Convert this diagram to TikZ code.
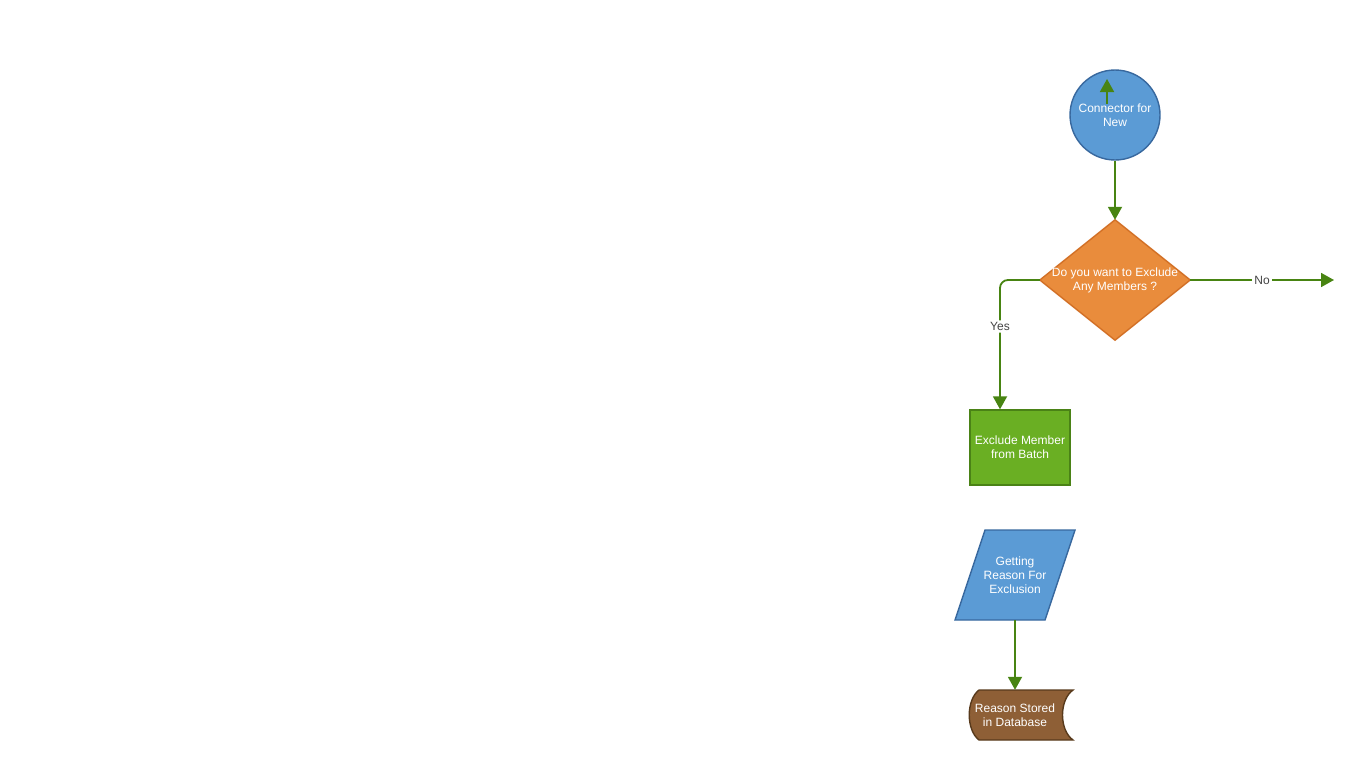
\documentclass[tikz,border=0pt]{standalone}
\usepackage{fontspec}
\setmainfont{Liberation Sans}
\usetikzlibrary{arrows.meta,shapes.geometric}
\definecolor{bluefill}{RGB}{91,155,213}
\definecolor{blueline}{RGB}{56,104,158}
\definecolor{orangefill}{RGB}{233,140,60}
\definecolor{orangeline}{RGB}{210,112,38}
\definecolor{greenfill}{RGB}{106,175,35}
\definecolor{greenline}{RGB}{74,130,22}
\definecolor{brownfill}{RGB}{142,95,54}
\definecolor{brownline}{RGB}{88,58,28}
\definecolor{linkgreen}{RGB}{72,132,18}
\definecolor{labelgrey}{RGB}{68,68,68}
\tikzset{
  x=1pt, y=-1pt,
  every node/.style={font=\fontsize{12}{14}\selectfont, text=white, align=center},
  holder/.style={inner sep=0pt},
  link/.style={draw=linkgreen, line width=1.8pt, -{Triangle[length=13pt,width=14pt]}},
  lbl/.style={fill=white, text=labelgrey, inner sep=2pt},
}
\begin{document}
\begin{tikzpicture}
\useasboundingbox (0,0) rectangle (1357,760);
% connector circle
\node[circle, draw=blueline, fill=bluefill, line width=1.4pt, minimum size=90pt, inner sep=0pt] (conn) at (1115,115) {Connector for\\New};
\coordinate (upstart) at (1107,104);
\coordinate (upend) at (1107,79);
\draw[link] (upstart) -- (upend);
% decision
\node[holder, minimum width=150pt, minimum height=120pt] (dec) at (1115,280) {};
\fill[orangefill, draw=orangeline, line width=1.4pt] (dec.north) -- (dec.east) -- (dec.south) -- (dec.west) -- cycle;
\node at (1115,280) {Do you want to Exclude\\Any Members ?};
% exclude box
\node[draw=greenline, fill=greenfill, line width=1.4pt, minimum width=100pt, minimum height=75pt, inner sep=0pt] (excl) at (1020,447.5) {Exclude Member\\from Batch};
% parallelogram
\node[holder, minimum width=120pt, minimum height=90pt] (para) at (1015,575) {};
\fill[bluefill, draw=blueline, line width=1.4pt] (985,530) -- (1075,530) -- (1045,620) -- (955,620) -- cycle;
\node at (1015,575) {Getting\\Reason For\\Exclusion};
% stored data
\node[holder, minimum width=103pt, minimum height=50pt] (db) at (1021,715) {};
\fill[brownfill, draw=brownline, line width=1.4pt] (979,690) -- (1073,690) .. controls (1059,700) and (1059,730) .. (1073,740) -- (979,740) .. controls (966,730) and (966,700) .. cycle;
\node at (1015,715) {Reason Stored\\in Database};
% helper coordinates
\coordinate (noend) at (1334,280);
\coordinate (yx) at (1000,0);
% connectors
\draw[link] (conn.south) -- (dec.north);
\draw[link] (dec.east) -- node[lbl, pos=0.5] {No} (noend);
\draw[link, rounded corners=8pt] (dec.west) -- (yx |- dec.west) -- node[lbl, pos=0.36] {Yes} (yx |- excl.north);
\draw[link] (para.south) -- (para.south |- db.north);
\end{tikzpicture}
\end{document}
